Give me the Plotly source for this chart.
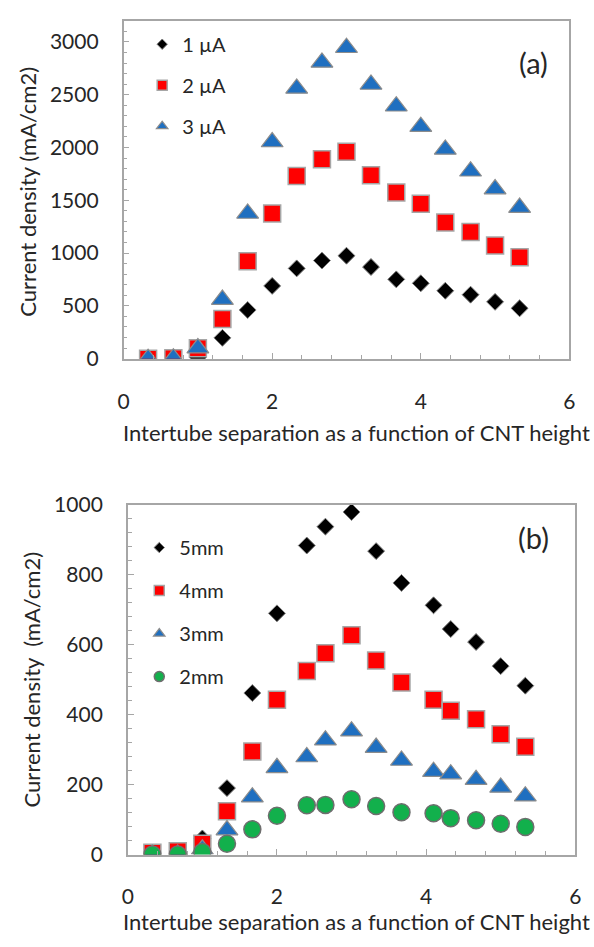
import plotly.graph_objects as go

# ---------------- data ----------------
x_a = [0.33, 0.67, 1.0, 1.33, 1.67, 2.0, 2.33, 2.67, 3.0, 3.33, 3.67, 4.0, 4.33, 4.67, 5.0, 5.33]
ua1 = [0, 0, 10, 197, 461, 689, 855, 929, 975, 868, 751, 714, 643, 606, 538, 477]
ua2 = [0, 5, 98, 375, 923, 1375, 1730, 1889, 1960, 1738, 1575, 1468, 1289, 1200, 1073, 960]
ua3 = [0, 5, 100, 560, 1375, 2052, 2560, 2806, 2945, 2597, 2391, 2197, 1982, 1775, 1606, 1431]
names_a = ["1 µA", "2 µA", "3 µA"]

x_b = [0.33, 0.67, 1.0, 1.33, 1.67, 2.0, 2.4, 2.65, 3.0, 3.33, 3.67, 4.1, 4.33, 4.67, 5.0, 5.33]
mm5 = [0, 0, 46, 190, 462, 690, 884, 938, 980, 868, 777, 713, 645, 608, 539, 483]
mm4 = [5, 9, 31, 124, 295, 443, 525, 576, 627, 555, 492, 443, 411, 387, 344, 308]
mm3 = [0, 0, 15, 70, 164, 248, 279, 327, 353, 306, 269, 237, 230, 214, 192, 167]
mm2 = [0, 0, 7, 31, 72, 111, 141, 142, 158, 139, 121, 118, 104, 98, 88, 79]
names_b = ["5mm", "4mm", "3mm", "2mm"]

x_ticks = [0, 2, 4, 6]
ya_ticks = [0, 500, 1000, 1500, 2000, 2500, 3000]
yb_ticks = [0, 200, 400, 600, 800, 1000]

x_title = "Intertube separation as a function of CNT height"
ya_title = "Current density (mA/cm2)"
yb_title = "Current density\u00a0 (mA/cm2)"

# ---------------- styles ----------------
FONT = "Lato"
TXT = "#262626"
GRAY = "#a6a6a6"
BLACK = "#000000"
RED = "#ff0000"
BLUE = "#1f6fc0"
GREEN = "#12b04c"

sty = {
    "diamond": dict(symbol="diamond", color=BLACK, line=dict(color="#808080", width=1)),
    "square": dict(symbol="square", color=RED, line=dict(color=GRAY, width=1.5)),
    "triangle": dict(symbol="triangle-up", color=BLUE, line=dict(color="#8c8c8c", width=1.2)),
    "circle": dict(symbol="circle", color=GREEN, line=dict(color="#6e6e6e", width=1.5)),
}
plot_size = {"diamond": 13, "square": 17, "triangle": 19, "circle": 17}
leg_size = {"diamond": 8, "square": 10, "triangle": 10, "circle": 10}

fig = go.Figure()

def add_series(x, y, name, kind, xa, ya, legend):
    m = dict(sty[kind])
    m["size"] = plot_size[kind]
    fig.add_trace(go.Scatter(x=x, y=y, mode="markers", marker=m, showlegend=False,
                             xaxis=xa, yaxis=ya, name=name))
    ml = dict(sty[kind])
    ml["size"] = leg_size[kind]
    fig.add_trace(go.Scatter(x=[None], y=[None], mode="markers", marker=ml, name=name,
                             showlegend=True, legend=legend, legendgroup=name,
                             xaxis=xa, yaxis=ya))

for y, n, k in zip([ua1, ua2, ua3], names_a, ["diamond", "square", "triangle"]):
    add_series(x_a, y, n, k, "x", "y", "legend")
for y, n, k in zip([mm5, mm4, mm3, mm2], names_b, ["diamond", "square", "triangle", "circle"]):
    add_series(x_b, y, n, k, "x2", "y2", "legend2")

W, H = 594, 947
TICK = 21

def xaxis(domain, anchor):
    return dict(domain=domain, anchor=anchor, range=[0, 6], tickvals=x_ticks,
                showgrid=False, zeroline=False, showline=True, mirror=True,
                linecolor=GRAY, linewidth=1.5, ticks="inside", ticklen=6, tickwidth=1.2,
                tickcolor=GRAY, minor=dict(dtick=0.4, ticks="inside", ticklen=4,
                                           tickcolor=GRAY, tickwidth=1.2),
                tickfont=dict(family=FONT, size=TICK, color=TXT), ticklabelstandoff=23)

def yaxis(domain, anchor, rng, tv, minor):
    return dict(domain=domain, anchor=anchor, range=rng, tickvals=tv,
                showgrid=False, zeroline=False, showline=True, mirror=True,
                linecolor=GRAY, linewidth=1.5, ticks="inside", ticklen=6, tickwidth=1.2,
                tickcolor=GRAY, minor=dict(dtick=minor, ticks="inside", ticklen=4,
                                           tickcolor=GRAY, tickwidth=1.2),
                tickfont=dict(family=FONT, size=TICK, color=TXT), ticklabelstandoff=19)

LEGF = 20
fig.update_layout(
    width=W, height=H, margin=dict(l=0, r=0, t=0, b=0),
    paper_bgcolor="white", plot_bgcolor="white",
    font=dict(family=FONT, color=TXT),
    xaxis=xaxis([120 / W, 575 / W], "y"),
    yaxis=yaxis([1 - 354 / H, 1 - 7 / H], "x", [0, 3200], ya_ticks, 100),
    xaxis2=xaxis([124.3 / W, 581 / W], "y2"),
    yaxis2=yaxis([1 - 863.3 / H, 1 - 504.3 / H], "x2", [0, 1000], yb_ticks, 40),
    legend=dict(x=0.234, y=1 - 11 / H, xanchor="left", yanchor="top",
                bgcolor="rgba(0,0,0,0)", font=dict(family=FONT, size=LEGF, color=TXT),
                traceorder="grouped", tracegroupgap=12, itemsizing="trace"),
    legend2=dict(x=0.229, y=1 - 528 / H, xanchor="left", yanchor="top",
                 bgcolor="rgba(0,0,0,0)", font=dict(family=FONT, size=LEGF, color=TXT),
                 traceorder="grouped", tracegroupgap=14, itemsizing="trace"),
    showlegend=True,
)

ann = [
    dict(text=x_title, x=357.5 / W, y=1 - 430 / H, size=22, angle=0),
    dict(text=ya_title, x=22 / W, y=1 - 183 / H, size=22, angle=-90),
    dict(text=x_title, x=358 / W, y=1 - 932 / H, size=22, angle=0),
    dict(text=yb_title, x=26 / W, y=1 - 684 / H, size=22, angle=-90),
    dict(text="(a)", x=538 / W, y=1 - 50 / H, size=29, angle=0),
    dict(text="(b)", x=538 / W, y=1 - 538 / H, size=29, angle=0),
]
for a in ann:
    fig.add_annotation(text=a["text"], x=a["x"], y=a["y"], xref="paper", yref="paper",
                       xanchor="center", yanchor="middle", showarrow=False,
                       textangle=a["angle"], font=dict(family=FONT, size=a["size"], color=TXT))

fig.write_html("out.html")
